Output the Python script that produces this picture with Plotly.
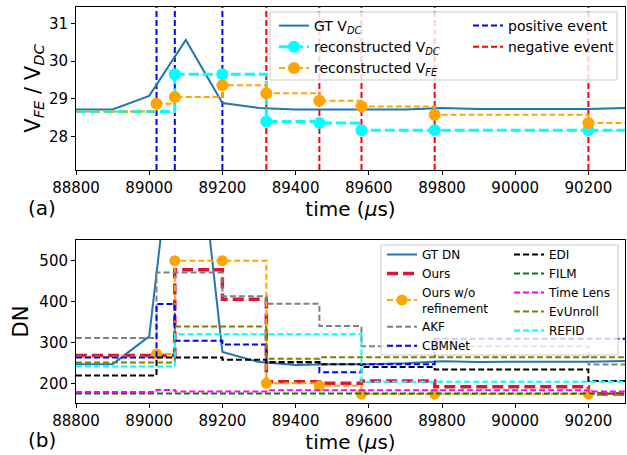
import plotly.graph_objects as go
from plotly.subplots import make_subplots

# ---------------- data ----------------
T_START, T_END = 88800, 90300
x_ticks = [88800, 89000, 89200, 89400, 89600, 89800, 90000, 90200]

gt_t = [88800, 88900, 89000, 89100, 89200, 89300, 89400, 89500,
        89600, 89700, 89800, 89900, 90000, 90100, 90200, 90300]
gt_vdc = [28.72, 28.72, 29.08, 30.56, 28.89, 28.76, 28.72, 28.72,
          28.73, 28.72, 28.76, 28.73, 28.73, 28.73, 28.73, 28.76]
gt_dn = [247, 247, 315, 1085, 277, 252, 245, 247,
         247, 249, 254, 252, 253, 253, 253, 255]

pos_events = [89020, 89070, 89200]
neg_events = [89320, 89465, 89580, 89780, 90200]

vdc_start = 28.67
vdc_t = [89070, 89200, 89320, 89465, 89580, 89780, 90200]
vdc_v = [29.65, 29.65, 28.40, 28.36, 28.17, 28.17, 28.17]

vfe_start = 28.67
vfe_t = [89020, 89070, 89200, 89320, 89465, 89580, 89780, 90200]
vfe_v = [28.87, 29.05, 29.36, 29.15, 28.95, 28.80, 28.58, 28.36]

ours_t = [88800, 89070, 89200, 89320, 89465, 89580, 89780, 90200]
ours_v = [268, 478, 406, 204, 200, 206, 192, 174]

wo_start = 265
wo_t = [89020, 89070, 89200, 89320, 89465, 89580, 89780, 90200]
wo_v = [272, 500, 500, 200, 194, 174, 174, 174]

akf_t = [88800, 89020, 89200, 89320, 89465, 89580, 90200]
akf_v = [311, 471, 413, 395, 340, 291, 246]

cbm_t = [88800, 89020, 89070, 89200, 89320, 89465, 89580, 89780]
cbm_v = [263, 394, 304, 295, 251, 227, 247, 309]

edi_t = [88800, 89020, 89200, 89320, 89465, 89580, 89780, 90200]
edi_v = [219, 263, 258, 252, 247, 240, 234, 206]

film_t = [88800]
film_v = [175]

tl_t = [88800, 89020, 89070, 89320, 90200]
tl_v = [179, 184, 180, 183, 180]

evu_t = [88800, 89070, 89320, 89465]
evu_v = [251, 339, 260, 264]

refid_t = [88800, 89070, 89580]
refid_v = [241, 320, 204]

# ---------------- layout geometry ----------------
W, H = 627, 455
ML, MR, MT, MB = 76, 2, 7, 52
PW, PH = W - ML - MR, H - MT - MB
FONT = "DejaVu Sans"


def pxx(px):
    return (px - ML) / PW


def pxy(py):
    return (H - MB - py) / PH


fig = make_subplots(rows=2, cols=1)
fig.update_yaxes(domain=[pxy(170), 1], row=1, col=1)
fig.update_yaxes(domain=[0, pxy(240)], row=2, col=1)


def steps(t, v):
    return list(t) + [T_END], list(v) + [v[-1]]


# ---------------- top panel ----------------
fig.add_trace(go.Scatter(x=gt_t, y=gt_vdc, mode="lines", name="GT V<sub><i>DC</i></sub>",
                         line=dict(color="#1f77b4", width=2), legend="legend"), row=1, col=1)

fig.add_trace(go.Scatter(x=[T_START, vdc_t[0]], y=[vdc_start, vdc_v[0]], mode="lines",
                         line=dict(color="#00ffff", width=3, dash="10px,4px", shape="hv"),
                         showlegend=False, hoverinfo="skip"), row=1, col=1)
fig.add_trace(go.Scatter(x=vdc_t, y=vdc_v, mode="lines+markers", name="reconstructed V<sub><i>DC</i></sub>",
                         line=dict(color="#00ffff", width=3, dash="10px,4px", shape="hv"),
                         marker=dict(size=12, color="#00ffff"), legend="legend"), row=1, col=1)
fig.add_trace(go.Scatter(x=[vdc_t[-1], T_END], y=[vdc_v[-1], vdc_v[-1]], mode="lines",
                         line=dict(color="#00ffff", width=3, dash="10px,4px"),
                         showlegend=False, hoverinfo="skip"), row=1, col=1)

fig.add_trace(go.Scatter(x=[T_START, vfe_t[0]], y=[vfe_start, vfe_v[0]], mode="lines",
                         line=dict(color="#ffa500", width=2, dash="6px,3px", shape="hv"),
                         showlegend=False, hoverinfo="skip"), row=1, col=1)
fig.add_trace(go.Scatter(x=vfe_t, y=vfe_v, mode="lines+markers", name="reconstructed V<sub><i>FE</i></sub>",
                         line=dict(color="#ffa500", width=2, dash="6px,3px", shape="hv"),
                         marker=dict(size=12, color="#ffa500"), legend="legend"), row=1, col=1)
fig.add_trace(go.Scatter(x=[vfe_t[-1], T_END], y=[vfe_v[-1], vfe_v[-1]], mode="lines",
                         line=dict(color="#ffa500", width=2, dash="6px,3px"),
                         showlegend=False, hoverinfo="skip"), row=1, col=1)

for t in pos_events:
    fig.add_shape(type="line", x0=t, x1=t, y0=0, y1=1, xref="x", yref="y domain",
                  line=dict(color="#0000ff", width=2, dash="6px,3px"), layer="below")
for t in neg_events:
    fig.add_shape(type="line", x0=t, x1=t, y0=0, y1=1, xref="x", yref="y domain",
                  line=dict(color="#ff0000", width=2, dash="6px,3px"), layer="below")
fig.add_trace(go.Scatter(x=[None], y=[None], mode="lines", name="positive event",
                         line=dict(color="#0000ff", width=2, dash="6px,3px"), legend="legend2"),
              row=1, col=1)
fig.add_trace(go.Scatter(x=[None], y=[None], mode="lines", name="negative event",
                         line=dict(color="#ff0000", width=2, dash="6px,3px"), legend="legend2"),
              row=1, col=1)

# ---------------- bottom panel ----------------
fig.add_trace(go.Scatter(x=gt_t, y=gt_dn, mode="lines", name="GT DN",
                         line=dict(color="#1f77b4", width=2), legend="legend3"), row=2, col=1)
x, y = steps(ours_t, ours_v)
fig.add_trace(go.Scatter(x=x, y=y, mode="lines", name="Ours",
                         line=dict(color="#dc143c", width=3.5, dash="11px,5px", shape="hv"),
                         legend="legend3"), row=2, col=1)
fig.add_trace(go.Scatter(x=[T_START, wo_t[0]], y=[wo_start, wo_v[0]], mode="lines",
                         line=dict(color="#ffa500", width=2, dash="6px,3px", shape="hv"),
                         showlegend=False, hoverinfo="skip"), row=2, col=1)
fig.add_trace(go.Scatter(x=wo_t, y=wo_v, mode="lines+markers", name="Ours w/o<br>refinement",
                         line=dict(color="#ffa500", width=2, dash="6px,3px", shape="hv"),
                         marker=dict(size=11, color="#ffa500"), legend="legend3"), row=2, col=1)
fig.add_trace(go.Scatter(x=[wo_t[-1], T_END], y=[wo_v[-1], wo_v[-1]], mode="lines",
                         line=dict(color="#ffa500", width=2, dash="6px,3px"),
                         showlegend=False, hoverinfo="skip"), row=2, col=1)

others = [
    ("AKF", akf_t, akf_v, "#808080", "legend3"),
    ("CBMNet", cbm_t, cbm_v, "#0000ff", "legend3"),
    ("EDI", edi_t, edi_v, "#000000", "legend4"),
    ("FILM", film_t, film_v, "#008000", "legend4"),
    ("Time Lens", tl_t, tl_v, "#ff00ff", "legend4"),
    ("EvUnroll", evu_t, evu_v, "#808000", "legend4"),
    ("REFID", refid_t, refid_v, "#00ffff", "legend4"),
]
for name, tt, vv, col, lg in others:
    x, y = steps(tt, vv)
    fig.add_trace(go.Scatter(x=x, y=y, mode="lines", name=name,
                             line=dict(color=col, width=2, dash="6px,3px", shape="hv"),
                             legend=lg), row=2, col=1)

for (x0, y0, x1, y1) in [(270, 12, 617, 80), (381, 245, 618, 355)]:
    fig.add_shape(type="rect", x0=pxx(x0), x1=pxx(x1), y0=pxy(y1), y1=pxy(y0),
                  xref="paper", yref="paper",
                  fillcolor="rgba(255,255,255,0.8)", line=dict(color="#cccccc", width=1),
                  layer="above")

# ---------------- axes ----------------
axis_common = dict(showgrid=False, zeroline=False, showline=True, linecolor="#000000",
                   linewidth=1, mirror=True, ticks="outside", ticklen=4, tickcolor="#000000",
                   tickfont=dict(family=FONT, size=15, color="#000000"))
for r in (1, 2):
    fig.update_xaxes(range=[T_START, T_END], tickvals=x_ticks, tickformat="d", row=r, col=1,
                     title=dict(text="time (<i>μ</i>s)", font=dict(family=FONT, size=20, color="#000000"),
                                standoff=1),
                     **axis_common)
fig.update_yaxes(range=[27.12, 31.43], tickvals=[28, 29, 30, 31], row=1, col=1,
                 title=dict(text="V<sub><i>FE</i></sub> / V<sub><i>DC</i></sub>",
                            font=dict(family=FONT, size=21, color="#000000"), standoff=2),
                 **axis_common)
fig.update_yaxes(range=[152, 550.6], tickvals=[200, 300, 400, 500], row=2, col=1,
                 title=dict(text="DN", font=dict(family=FONT, size=21, color="#000000"), standoff=5),
                 **axis_common)

fig.add_annotation(text="(a)", x=pxx(42), y=pxy(208), xref="paper", yref="paper",
                   xanchor="center", yanchor="middle", showarrow=False,
                   font=dict(family=FONT, size=20, color="#000000"))
fig.add_annotation(text="(b)", x=pxx(42), y=pxy(440), xref="paper", yref="paper",
                   xanchor="center", yanchor="middle", showarrow=False,
                   font=dict(family=FONT, size=20, color="#000000"))

leg_common = dict(bgcolor="rgba(0,0,0,0)", borderwidth=0, itemwidth=30,
                  xanchor="left", yanchor="top", traceorder="normal")
fig.update_layout(
    width=W, height=H,
    margin=dict(l=ML, r=MR, t=MT, b=MB, autoexpand=False),
    paper_bgcolor="white", plot_bgcolor="white",
    font=dict(family=FONT, color="#000000"),
    legend=dict(x=pxx(274), y=pxy(10), font=dict(family=FONT, size=14), **leg_common),
    legend2=dict(x=pxx(468), y=pxy(10), font=dict(family=FONT, size=14), **leg_common),
    legend3=dict(x=pxx(382), y=pxy(240), font=dict(family=FONT, size=12), **leg_common),
    legend4=dict(x=pxx(509), y=pxy(240), font=dict(family=FONT, size=12), **leg_common),
)

fig.write_html("out.html", config={"displayModeBar": False},
               post_script="document.body.style.margin='0';document.body.style.padding='0';"
                           "document.body.style.overflow='hidden';")
